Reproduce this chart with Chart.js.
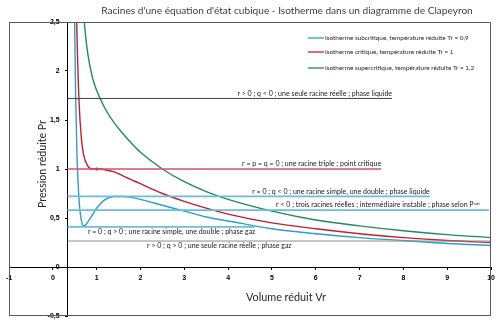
<!DOCTYPE html>
<html>
<head>
<meta charset="utf-8">
<script src="https://cdn.jsdelivr.net/npm/chart.js@4.4.1/dist/chart.umd.min.js"></script>
<style>
  body { margin: 0; background: #fff; }
  canvas { display: block; }
</style>
</head>
<body>
<canvas id="isothermes" width="500" height="324"></canvas>
<script>
// Isothermes de van der Waals
const subcritVr = [0.48, 0.5, 0.52, 0.55, 0.6, 0.65, 0.7, 0.75, 0.8, 0.9, 1.0, 1.2, 1.4, 1.6, 1.8, 2.0, 2.5, 3, 3.5, 4, 5, 6, 7, 8, 9, 10];
const subcritPr = [3.34, 2.40, 1.76, 1.16, 0.67, 0.48, 0.42, 0.43, 0.46, 0.53, 0.60, 0.69, 0.72, 0.72, 0.71, 0.69, 0.63, 0.57, 0.51, 0.47, 0.39, 0.34, 0.30, 0.27, 0.24, 0.22];

const critVr = [0.53, 0.55, 0.6, 0.65, 0.7, 0.8, 0.9, 1.0, 1.1, 1.2, 1.4, 1.6, 1.8, 2.0, 2.5, 3, 3.5, 4, 5, 6, 7, 8, 9, 10];
const critPr = [2.88, 2.39, 1.67, 1.32, 1.15, 1.03, 1.00, 1.00, 1.00, 0.99, 0.97, 0.93, 0.89, 0.85, 0.75, 0.67, 0.60, 0.54, 0.45, 0.39, 0.34, 0.30, 0.27, 0.25];

const supercritVr = [0.68, 0.7, 0.75, 0.8, 0.9, 1.0, 1.2, 1.4, 1.6, 1.8, 2.0, 2.5, 3, 3.5, 4, 5, 6, 7, 8, 9, 10];
const supercritPr = [2.74, 2.60, 2.35, 2.17, 1.94, 1.80, 1.61, 1.47, 1.36, 1.26, 1.17, 1.00, 0.87, 0.77, 0.69, 0.57, 0.48, 0.42, 0.37, 0.33, 0.30];

const seriesNames = [
  "Isotherme subcritique, température réduite Tr = 0,9",
  "Isotherme critique, température réduite Tr = 1",
  "Isotherme supercritique, température réduite Tr = 1,2"
];

// niveaux de pression (droites horizontales) et leur étendue en Vr
const levelPr = [1.72, 1, 0.72, 0.58, 0.41, 0.265];
const levelStartVr = 1 / 3;
const levelEndVr = [7.74, 7.49, 8.6, 9.95, 4.6, 10];
const levelLabels = [
  "r > 0 ; q < 0 ; une seule racine réelle ; phase liquide",
  "r = p = q = 0 ; une racine triple ; point critique",
  "r = 0 ; q < 0 ; une racine simple, une double ; phase liquide",
  "r < 0 ; trois racines réelles ; intermédiaire instable ; phase selon P",
  "r = 0 ; q > 0 ; une racine simple, une double ; phase gaz",
  "r > 0 ; q > 0 ; une seule racine réelle ; phase gaz"
];

const critPointVr = [1];
const critPointPr = [1];

const xTicks = [-1, 0, 1, 2, 3, 4, 5, 6, 7, 8, 9, 10];
const yTicks = [-0.5, 0, 0.5, 1, 1.5, 2, 2.5];

const chartTitle = "Racines d'une équation d'état cubique - Isotherme dans un diagramme de Clapeyron";
const xTitle = "Volume réduit Vr";
const yTitle = "Pression réduite Pr";

const toPoints = (xs, ys) => xs.map((x, i) => ({ x: x, y: ys[i] }));

const levelColors = ['#404040', '#d4506a', '#6cbcdc', '#6cbcdc', '#6cbcdc', '#8c8c8c'];
const levelWidths = [1, 1.3, 1.8, 1.8, 1.8, 1];
// placement des étiquettes : [Vr d'ancrage, alignement, au-dessus ?]
const labelPlace = [
  [7.74, 'right', true],
  [7.49, 'right', true],
  [8.6, 'right', true],
  [9.6, 'right', true],
  [0.8, 'left', false],
  [2.15, 'left', false]
];

let datasets = levelPr.map((p, i) => ({
  label: levelLabels[i],
  data: toPoints([levelStartVr, levelEndVr[i]], [p, p]),
  borderColor: levelColors[i],
  borderWidth: levelWidths[i],
  pointRadius: 0,
  showLine: true
}));

const curveColors = ['#2b9fca', '#c41e2e', '#1e8c5c'];
[[subcritVr, subcritPr], [critVr, critPr], [supercritVr, supercritPr]].forEach((s, i) => {
  datasets.push({
    label: seriesNames[i],
    data: toPoints(s[0], s[1]),
    borderColor: curveColors[i],
    borderWidth: 1.4,
    pointRadius: 0,
    showLine: true,
    cubicInterpolationMode: 'monotone'
  });
});
datasets.push({
  label: 'point critique',
  data: toPoints(critPointVr, critPointPr),
  pointRadius: 1.6,
  pointBackgroundColor: '#7a1020',
  pointBorderWidth: 0,
  showLine: false
});

// taille de police pour qu'un texte occupe une largeur donnée
function fitFont(c, text, width, family) {
  c.font = '10px ' + family;
  const size = 10 * width / c.measureText(text).width;
  return size.toFixed(2) + 'px ' + family;
}

const decor = {
  id: 'decor',
  beforeDraw(chart) {
    const c = chart.ctx;
    c.save();
    c.fillStyle = '#fff';
    c.fillRect(0, 0, chart.width, chart.height);
    c.restore();
  },
  afterDraw(chart) {
    const c = chart.ctx, a = chart.chartArea;
    const xs = chart.scales.x, ys = chart.scales.y;
    c.save();
    // cadre
    c.strokeStyle = '#5a5a5a';
    c.lineWidth = 1;
    c.strokeRect(Math.round(a.left) + 0.5, Math.round(a.top) + 0.5, Math.round(a.width) - 1, Math.round(a.height) - 1);

    // titre
    c.fillStyle = '#404040';
    c.font = fitFont(c, chartTitle, 372, 'Lato');
    c.textAlign = 'center';
    c.textBaseline = 'middle';
    c.fillText(chartTitle, 287, 11);

    // titres des axes
    c.fillStyle = '#262626';
    c.font = fitFont(c, xTitle, 80, 'Lato');
    c.fillText(xTitle, 286, 298);
    c.save();
    c.translate(43, 164);
    c.rotate(-Math.PI / 2);
    c.font = fitFont(c, yTitle, 88, 'Lato');
    c.fillText(yTitle, 0, 0);
    c.restore();

    // étiquettes des niveaux
    c.fillStyle = '#1a1a1a';
    labelPlace.forEach((lp, i) => {
      c.font = '7px Lato';
      const px = xs.getPixelForValue(lp[0]);
      const py = ys.getPixelForValue(levelPr[i]);
      c.textAlign = lp[1];
      c.textBaseline = 'middle';
      const ty = lp[2] ? py - 5 : py + 5;
      c.fillText(levelLabels[i], px, ty);
      if (i === 3) {
        c.font = '4.5px Lato';
        c.textAlign = 'left';
        c.fillText('sat', px + 0.5, ty - 2);
      }
    });

    // légende
    const legendY = [38, 52, 68];
    const legendFont = fitFont(c, seriesNames[0], 144, 'Lato');
    c.textAlign = 'left';
    c.textBaseline = 'middle';
    seriesNames.forEach((name, i) => {
      c.strokeStyle = curveColors[i];
      c.lineWidth = 1.3;
      c.beginPath();
      c.moveTo(308, legendY[i]);
      c.lineTo(324, legendY[i]);
      c.stroke();
      c.font = legendFont;
      c.fillStyle = '#262626';
      c.fillText(name, 325, legendY[i]);
    });
    c.restore();
  }
};

const fmt = v => String(v).replace('.', ',');
const tickFont = { family: 'Liberation Sans', size: 7, weight: 'bold' };

new Chart(document.getElementById('isothermes'), {
  type: 'scatter',
  data: { datasets: datasets },
  options: {
    responsive: false,
    devicePixelRatio: 1,
    animation: false,
    layout: { padding: { left: 9, right: 8, top: 22, bottom: 8 } },
    plugins: { legend: { display: false }, tooltip: { enabled: false } },
    scales: {
      x: {
        type: 'linear',
        min: -1, max: 10,
        position: { y: 0 },
        afterFit: s => { s.height = 0; },
        afterBuildTicks: s => { s.ticks = xTicks.map(v => ({ value: v })); },
        ticks: { color: '#000', font: tickFont, padding: 5, autoSkip: false, maxRotation: 0, callback: fmt },
        grid: { drawOnChartArea: false, drawTicks: true, tickLength: 2, color: '#000' },
        border: { color: '#000', width: 1 }
      },
      y: {
        type: 'linear',
        min: -0.5, max: 2.5,
        position: { x: 1 / 3 },
        afterFit: s => { s.width = 0; },
        afterBuildTicks: s => { s.ticks = yTicks.map(v => ({ value: v })); },
        // espaces finaux : écart entre l'étiquette et l'axe
        ticks: { color: '#000', font: tickFont, autoSkip: false, callback: v => fmt(v) + '    ' },
        grid: { drawOnChartArea: false, drawTicks: true, tickLength: 2, color: '#000' },
        border: { color: '#000', width: 1 }
      }
    }
  },
  plugins: [decor]
});
</script>
</body>
</html>
